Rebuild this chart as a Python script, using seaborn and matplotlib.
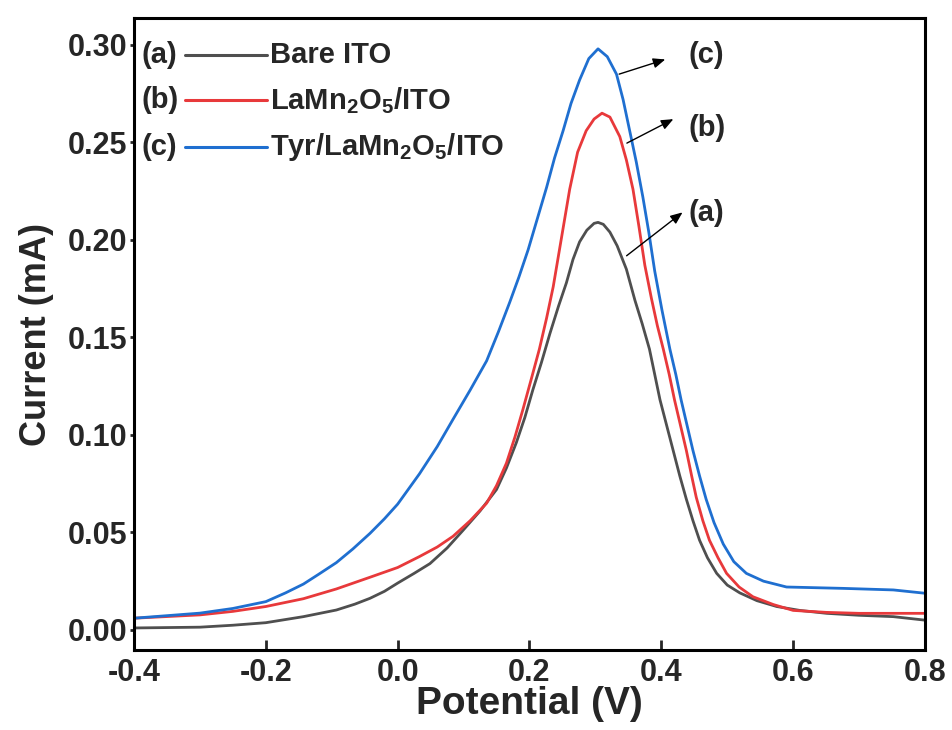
import numpy as np
import pandas as pd
import matplotlib
matplotlib.use("Agg")
import matplotlib.pyplot as plt
import seaborn as sns

# ---- data ----
x_a = [-0.4, -0.3, -0.25, -0.2, -0.143, -0.093, -0.065, -0.042, -0.02, 0.0, 0.025, 0.049, 0.075,
       0.099, 0.125, 0.15, 0.165, 0.18, 0.193, 0.205, 0.218, 0.231, 0.244, 0.256, 0.266, 0.276,
       0.287, 0.298, 0.304, 0.312, 0.322, 0.333, 0.347, 0.360, 0.371, 0.382, 0.39, 0.398, 0.408,
       0.418, 0.428, 0.438, 0.448, 0.458, 0.47, 0.484, 0.50, 0.519, 0.545, 0.575, 0.61, 0.651,
       0.70, 0.752, 0.8]
y_a = [0.001, 0.0014, 0.0024, 0.0037, 0.0068, 0.0102, 0.0132, 0.0162, 0.0198, 0.024, 0.029, 0.034, 0.042,
       0.051, 0.061, 0.072, 0.083, 0.096, 0.109, 0.123, 0.137, 0.152, 0.166, 0.178, 0.190, 0.199,
       0.205, 0.2085, 0.209, 0.208, 0.204, 0.197, 0.185, 0.169, 0.157, 0.144, 0.131, 0.118, 0.105,
       0.092, 0.079, 0.067, 0.056, 0.046, 0.037, 0.029, 0.023, 0.019, 0.015, 0.012, 0.010, 0.0085,
       0.0075, 0.0068, 0.005]

x_b = [-0.4, -0.3, -0.25, -0.2, -0.143, -0.093, -0.042, 0.0, 0.033, 0.06, 0.084, 0.11, 0.135,
       0.15, 0.165, 0.178, 0.19, 0.203, 0.215, 0.226, 0.236, 0.246, 0.261, 0.273, 0.286, 0.298,
       0.31, 0.322, 0.337, 0.347, 0.357, 0.366, 0.375, 0.385, 0.394, 0.403, 0.412, 0.42, 0.429,
       0.438, 0.446, 0.453, 0.463, 0.473, 0.486, 0.499, 0.518, 0.539, 0.57, 0.6, 0.65, 0.7, 0.8]
y_b = [0.006, 0.0077, 0.0095, 0.012, 0.016, 0.021, 0.027, 0.032, 0.0376, 0.0425, 0.048, 0.056, 0.065,
       0.074, 0.0855, 0.099, 0.113, 0.129, 0.144, 0.160, 0.176, 0.196, 0.226, 0.245, 0.256, 0.262,
       0.265, 0.263, 0.253, 0.241, 0.226, 0.207, 0.187, 0.170, 0.156, 0.144, 0.131, 0.118, 0.105,
       0.092, 0.079, 0.068, 0.056, 0.046, 0.037, 0.029, 0.022, 0.017, 0.013, 0.010, 0.009, 0.0085,
       0.0085]

x_c = [-0.4, -0.3, -0.25, -0.2, -0.17, -0.143, -0.12, -0.093, -0.068, -0.042, -0.02, 0.0, 0.033,
       0.06, 0.084, 0.11, 0.135, 0.153, 0.17, 0.184, 0.198, 0.212, 0.226, 0.238, 0.251, 0.263,
       0.276, 0.29, 0.304, 0.318, 0.332, 0.342, 0.352, 0.362, 0.372, 0.381, 0.39, 0.401, 0.413,
       0.422, 0.43, 0.439, 0.448, 0.458, 0.468, 0.48, 0.494, 0.51, 0.529, 0.555, 0.59, 0.676,
       0.752, 0.8]
y_c = [0.006, 0.0086, 0.011, 0.0145, 0.019, 0.0235, 0.0285, 0.0345, 0.0415, 0.0495, 0.057, 0.0645, 0.080,
       0.094, 0.108, 0.123, 0.138, 0.153, 0.168, 0.181, 0.195, 0.211, 0.227, 0.242, 0.256, 0.270,
       0.282, 0.293, 0.298, 0.294, 0.285, 0.272, 0.256, 0.240, 0.222, 0.204, 0.184, 0.164, 0.144,
       0.131, 0.118, 0.105, 0.092, 0.079, 0.067, 0.055, 0.044, 0.035, 0.029, 0.025, 0.022, 0.0213,
       0.0205, 0.0188]

series_keys = ["(a)", "(b)", "(c)"]
series_labels = ["Bare ITO", r"LaMn$_\mathbf{2}$O$_\mathbf{5}$/ITO", r"Tyr/LaMn$_\mathbf{2}$O$_\mathbf{5}$/ITO"]
colors = ["#4f4f4f", "#e8393b", "#1f6fd0"]
xticks = [-0.4, -0.2, 0.0, 0.2, 0.4, 0.6, 0.8]
yticks = [0.00, 0.05, 0.10, 0.15, 0.20, 0.25, 0.30]

df = pd.concat([
    pd.DataFrame({"Potential": x_a, "Current": y_a, "key": "(a)"}),
    pd.DataFrame({"Potential": x_b, "Current": y_b, "key": "(b)"}),
    pd.DataFrame({"Potential": x_c, "Current": y_c, "key": "(c)"}),
], ignore_index=True)

sns.set_theme(style="ticks")
plt.rcParams["font.family"] = ["Liberation Sans", "DejaVu Sans"]
plt.rcParams["mathtext.fontset"] = "custom"
plt.rcParams["mathtext.rm"] = "Liberation Sans:bold"
plt.rcParams["mathtext.it"] = "Liberation Sans:bold"
plt.rcParams["mathtext.bf"] = "Liberation Sans:bold"

fig = plt.figure(figsize=(9.53, 7.30), dpi=100)
ax = fig.add_axes([0.1406, 0.1096, 0.8300, 0.8657])

sns.lineplot(data=df, x="Potential", y="Current", hue="key", hue_order=series_keys,
             palette=colors, linewidth=2.0, legend=False, ax=ax, sort=False)

ax.set_xlim(-0.4, 0.8)
ax.set_ylim(-0.0103, 0.3138)
ax.set_xticks(xticks)
ax.set_xticklabels([f"{t:.1f}" for t in xticks], fontweight="bold", fontsize=22)
ax.set_yticks(yticks)
ax.set_yticklabels([f"{t:.2f}" for t in yticks], fontweight="bold", fontsize=22)
ax.tick_params(axis="x", direction="in", length=7, width=2, pad=6)
ax.tick_params(axis="y", direction="out", length=3, width=2, pad=2)
for s in ax.spines.values():
    s.set_linewidth(2.2)
    s.set_color("black")

ax.set_xlabel("Potential (V)", fontweight="bold", fontsize=28, labelpad=-2)
ax.set_ylabel("Current (mA)", fontweight="bold", fontsize=26, labelpad=10)

# custom legend: "(a)" — line — label
rows_y = [0.941, 0.870, 0.796]
for key, lab, col, yy in zip(series_keys, series_labels, colors, rows_y):
    ax.text(0.009, yy, key, transform=ax.transAxes, fontsize=21, fontweight="bold",
            va="center", ha="left")
    ax.plot([0.064, 0.168], [yy, yy], transform=ax.transAxes, color=col, lw=2.2)
    ax.text(0.172, yy, lab, transform=ax.transAxes, fontsize=21, fontweight="bold",
            va="center", ha="left")

# arrows with labels near the peaks
arrows = [((0.332, 0.2846), (0.410, 0.293), (0.468, 0.295), "(c)"),
          ((0.344, 0.249), (0.422, 0.2626), (0.469, 0.2574), "(b)"),
          ((0.344, 0.191), (0.4355, 0.215), (0.469, 0.214), "(a)")]
for tail, head, tpos, lab in arrows:
    ax.annotate("", xy=head, xytext=tail,
                arrowprops=dict(arrowstyle="-|>,head_length=0.6,head_width=0.25",
                                color="black", lw=1.0))
    ax.text(tpos[0], tpos[1], lab, fontsize=21, fontweight="bold", ha="center", va="center")

fig.savefig("out.png", dpi=100)
